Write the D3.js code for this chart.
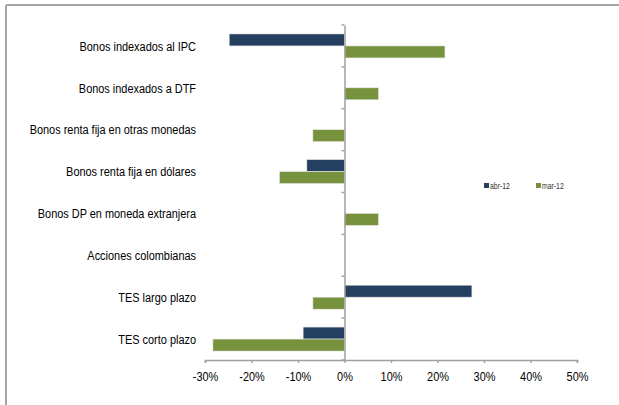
<!DOCTYPE html>
<html>
<head>
<meta charset="utf-8">
<script src="https://cdn.jsdelivr.net/npm/d3@7"></script>
<style>
  body { margin: 0; background: #fff; }
  text { font-family: "Liberation Sans", Arial, sans-serif; fill: #000; }
</style>
</head>
<body>
<div id="chart"></div>
<script>
// categories, top to bottom
var categories = [
  "Bonos indexados al IPC",
  "Bonos indexados a DTF",
  "Bonos renta fija en otras monedas",
  "Bonos renta fija en dólares",
  "Bonos DP en moneda extranjera",
  "Acciones colombianas",
  "TES largo plazo",
  "TES corto plazo"
];
var seriesNames = ["abr-12", "mar-12"];
var abr12 = [-24.8, 0, 0, -8.1, 0, 0, 27.4, -8.9];
var mar12 = [21.6, 7.3, -6.8, -14.0, 7.3, 0, -6.8, -28.3];
var xTicks = [-30, -20, -10, 0, 10, 20, 30, 40, 50];
var colors = ["#243f60", "#76923c"];

var width = 619, height = 405;
var narrow = 0.81; // squeeze to look like Arial Narrow

var svg = d3.select("#chart").append("svg")
    .attr("width", width)
    .attr("height", height);

// frame (top and left only)
svg.append("line").attr("x1", 6).attr("x2", 619).attr("y1", 5).attr("y2", 5)
    .style("stroke", "#a6a6a6").style("stroke-width", 2);
svg.append("line").attr("x1", 6).attr("x2", 6).attr("y1", 5).attr("y2", 405)
    .style("stroke", "#a6a6a6").style("stroke-width", 2);

var x = d3.scaleLinear().domain([-30, 50]).range([205, 577]);
var y = d3.scaleBand().domain(categories).range([25, 360]);

var data = categories.map(function(c, i) {
    return { cat: c, values: [abr12[i], mar12[i]] };
});

// bars
var barH = 12;
var groups = svg.append("g").selectAll("g")
    .data(data)
    .enter()
    .append("g")
    .attr("transform", function(d) { return "translate(0," + (y(d.cat) + y.bandwidth() / 2 - barH) + ")"; });

groups.selectAll("rect")
    .data(function(d) { return d.values; })
    .enter()
    .append("rect")
    .attr("x", function(v) { return x(Math.min(0, v)); })
    .attr("y", function(v, i) { return i * barH; })
    .attr("width", function(v) { return Math.abs(x(v) - x(0)); })
    .attr("height", barH)
    .style("fill", function(v, i) { return colors[i]; })
    .style("stroke", "#e8e8e8")
    .style("stroke-width", 0.6);

// x axis
var xAxis = svg.append("g")
    .attr("transform", "translate(0,360)")
    .call(d3.axisBottom(x).tickValues(xTicks).tickSize(3).tickFormat(function(d) { return d + "%"; }));
xAxis.select(".domain").style("stroke", "#a0a0a0").style("stroke-width", 1.5);
xAxis.selectAll(".tick line").style("stroke", "#a0a0a0").style("stroke-width", 1.5);
xAxis.selectAll(".tick text")
    .attr("y", 0).attr("dy", 0)
    .attr("transform", "translate(0,17) scale(" + narrow + ",1)")
    .attr("dominant-baseline", "middle")
    .style("font-size", "13.5px")
    .style("fill", "#000");

// vertical axis at zero
var yAxis = svg.append("g")
    .attr("transform", "translate(" + x(0) + ",0)")
    .call(d3.axisLeft(y).tickValues([]).tickSizeOuter(0));
yAxis.select(".domain").style("stroke", "#a0a0a0").style("stroke-width", 1.5);
yAxis.selectAll(".bound")
    .data(d3.range(categories.length + 1))
    .enter()
    .append("line")
    .attr("class", "bound")
    .attr("x1", -3).attr("x2", 0)
    .attr("y1", function(i) { return 25 + i * y.step(); })
    .attr("y2", function(i) { return 25 + i * y.step(); })
    .style("stroke", "#a0a0a0").style("stroke-width", 1.5);

// category labels
svg.append("g").selectAll("text")
    .data(categories)
    .enter()
    .append("text")
    .attr("transform", function(d) {
        return "translate(196," + (y(d) + y.bandwidth() / 2) + ") scale(" + narrow + ",1)";
    })
    .attr("dy", "0.35em")
    .style("text-anchor", "end")
    .style("font-size", "13.5px")
    .text(function(d) { return d; });

// legend
var legend = svg.append("g").selectAll("g")
    .data(seriesNames)
    .enter()
    .append("g")
    .attr("transform", function(d, i) { return "translate(" + (484 + i * 52) + ",186)"; });
legend.append("rect")
    .attr("x", 0).attr("y", -3).attr("width", 5).attr("height", 5)
    .style("fill", function(d, i) { return colors[i]; });
legend.append("text")
    .attr("transform", "translate(6,0) scale(" + narrow + ",1)")
    .attr("dy", "0.35em")
    .style("font-size", "8.5px")
    .style("fill", "#333")
    .text(function(d) { return d; });
</script>
</body>
</html>
